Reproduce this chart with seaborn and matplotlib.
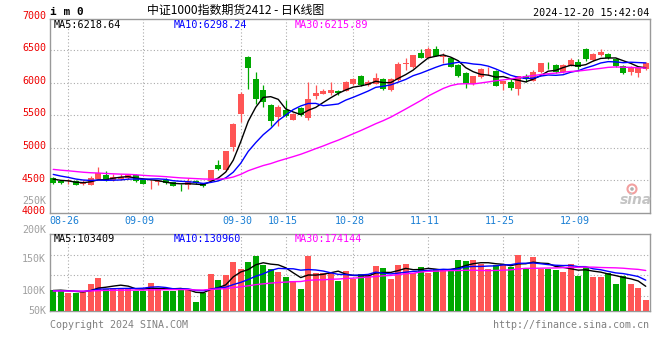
import numpy as np
import pandas as pd
import matplotlib
matplotlib.use("Agg")
import matplotlib.pyplot as plt
import matplotlib.transforms as mtransforms
from matplotlib.patches import Ellipse
import seaborn as sns

# ---------------- data ----------------
date_labels = ["08-26", "09-09", "09-30", "10-15", "10-28", "11-11", "11-25", "12-09"]
date_index = [2, 12, 25, 31, 40, 50, 60, 70]

opens = [4536, 4485, 4490, 4490, 4438, 4425, 4520, 4590, 4508, 4520,
         4531, 4590, 4500, 4470, 4480, 4500, 4470, 4420, 4423, 4490,
         4454, 4495, 4730, 4655, 5010, 5520, 6393, 6059, 5880, 5649,
         5469, 5572, 5433, 5608, 5454, 5792, 5828, 5844, 5869, 5869,
         5972, 6095, 5957, 5982, 6059, 5880, 6033, 6290, 6239, 6459,
         6382, 6520, 6395, 6384, 6273, 6146, 5980, 6081, 6172, 6182,
         5980, 6005, 5894, 6106, 6030, 6157, 6273, 6273, 6157, 6258,
         6323, 6510, 6348, 6424, 6434, 6369, 6257, 6167, 6141, 6207]
highs = [4546, 4505, 4515, 4500, 4505, 4567, 4705, 4638, 4592, 4592,
         4597, 4597, 4505, 4505, 4505, 4541, 4480, 4449, 4530, 4505,
         4460, 4660, 4806, 4955, 5387, 5854, 6400, 6162, 5957, 5674,
         5649, 5726, 5540, 5623, 6008, 5967, 5900, 6008, 5880, 6018,
         6064, 6110, 6033, 6151, 6069, 6069, 6316, 6377, 6418, 6520,
         6540, 6560, 6459, 6399, 6283, 6167, 6106, 6217, 6232, 6197,
         6030, 6056, 6106, 6131, 6187, 6303, 6323, 6283, 6283, 6374,
         6359, 6535, 6460, 6510, 6460, 6374, 6268, 6257, 6232, 6323]
lows = [4444, 4444, 4449, 4423, 4428, 4423, 4515, 4495, 4495, 4510,
        4520, 4474, 4438, 4367, 4428, 4449, 4410, 4341, 4372, 4449,
        4402, 4490, 4660, 4650, 4946, 5392, 5905, 5674, 5623, 5341,
        5341, 5470, 5420, 5495, 5433, 5751, 5818, 5813, 5813, 5864,
        5957, 5950, 5950, 5972, 5880, 5864, 6020, 6198, 6228, 6370,
        6370, 6400, 6305, 6232, 6091, 5914, 5970, 6070, 6121, 5945,
        5879, 5889, 5803, 6005, 6020, 6146, 6207, 6146, 6146, 6248,
        6207, 6333, 6338, 6409, 6364, 6242, 6136, 6116, 6091, 6197]
closes = [4459, 4464, 4500, 4428, 4474, 4530, 4615, 4502, 4548, 4551,
          4577, 4498, 4444, 4476, 4490, 4454, 4410, 4410, 4485, 4454,
          4413, 4652, 4675, 4944, 5362, 5828, 6223, 5751, 5700, 5418,
          5623, 5485, 5520, 5505, 5741, 5844, 5864, 5880, 5839, 6008,
          6059, 5957, 6008, 6069, 5905, 6059, 6280, 6300, 6418, 6382,
          6510, 6408, 6408, 6242, 6106, 5980, 6096, 6207, 6182, 5955,
          6020, 5924, 6096, 6056, 6167, 6293, 6263, 6157, 6273, 6343,
          6242, 6359, 6434, 6475, 6374, 6247, 6146, 6232, 6217, 6293]
volumes = [89, 89, 75, 75, 79, 115, 142, 94, 99, 99,
           94, 86, 86, 120, 94, 86, 86, 94, 94, 38,
           75, 157, 132, 153, 208, 179, 208, 234, 196, 179,
           164, 145, 128, 94, 234, 162, 162, 160, 129, 170,
           135, 157, 153, 191, 183, 136, 196, 200, 163, 187,
           160, 179, 179, 179, 217, 213, 217, 200, 179, 196,
           200, 187, 238, 183, 230, 179, 179, 174, 166, 200,
           149, 187, 145, 145, 160, 115, 149, 115, 99, 47]  # thousand lots
# sessions before the visible window (needed for the moving averages)
hist_close = [4820, 4790, 4760, 4805, 4770, 4740, 4700, 4720, 4690, 4660,
              4700, 4730, 4690, 4650, 4670, 4700, 4680, 4650, 4620, 4600,
              4720, 4700, 4680, 4630, 4590, 4560, 4540, 4530, 4511]
hist_volume = [82, 90, 78, 85, 95, 88, 76, 80, 92, 84, 79, 86, 90, 83, 77,
               81, 88, 94, 85, 79, 82, 87, 91, 84, 78, 83, 86, 90, 88]

price_ticks = [4000, 4500, 5000, 5500, 6000, 6500, 7000]
vol_tick_text = ["200K", "150K", "100K", "50K"]
title_text = "中证1000指数期货2412 - 日K线图"
code_text = "i m 0"
stamp_text = "2024-12-20 15:42:04"
ma_price_text = ["MA5:6218.64", "MA10:6298.24", "MA30:6215.89"]
ma_vol_text = ["MA5:103409", "MA10:130960", "MA30:174144"]

# ---------------- prep ----------------
n = len(closes)
idx = np.arange(n)
df = pd.DataFrame({"i": idx, "open": opens, "high": highs, "low": lows,
                   "close": closes, "vol": np.array(volumes) * 1000})
full_c = pd.Series(hist_close + closes, dtype=float)
full_v = pd.Series(hist_volume + volumes, dtype=float) * 1000
h = len(hist_close)
for w in (5, 10, 30):
    df[f"ma{w}"] = full_c.rolling(w).mean().values[h:]
    df[f"vma{w}"] = full_v.rolling(w).mean().values[h:]

RED = "#ff5555"
GREEN = "#00a800"
GRID = "#aaaaaa"
FRAME = "#999999"
MAC = {"5": "black", "10": "#0000ff", "30": "#ff00ff"}

sns.set_theme(style="white")
plt.rcParams["font.family"] = ["DejaVu Sans Mono", "Noto Sans CJK SC"]

W, H = 660, 360
fig = plt.figure(figsize=(6.6, 3.6), dpi=100)
fig.patch.set_facecolor("white")


def fx(x):
    return x / W


def fy(y):
    return 1 - y / H


ax1 = fig.add_axes([fx(50), fy(213), 600 / W, 194 / H])
ax2 = fig.add_axes([fx(50), fy(311), 600 / W, 77 / H])

xlim = (-0.43, 79.57)
up = df["close"] >= df["open"]
cols = np.where(up, RED, GREEN)
bw = 0.76

# ---- price panel ----
ax1.vlines(df["i"], df["low"], df["high"], colors=cols, linewidth=0.9, zorder=3)
body_h = (df["close"] - df["open"]).abs().clip(lower=9)
body_b = df[["open", "close"]].min(axis=1)
ax1.bar(df["i"], body_h, bottom=body_b, width=bw, color=cols, linewidth=0, zorder=4)
for w in ("5", "10", "30"):
    sns.lineplot(x=df["i"], y=df[f"ma{w}"], ax=ax1, color=MAC[w], linewidth=1.0,
                 zorder=5, estimator=None)
ax1.set_xlim(*xlim)
ax1.set_ylim(4000, 6975)
ax1.set_yticks([4500, 5000, 5500, 6000, 6500])
ax1.set_xticks(date_index)
ax1.grid(True, color=GRID, linestyle=(0, (1, 2)), linewidth=0.8)
ax1.tick_params(left=False, bottom=False, labelleft=False, labelbottom=False)
ax1.set_xlabel("")
ax1.set_ylabel("")

blend1 = mtransforms.blended_transform_factory(ax1.transAxes, ax1.transData)
for v in price_ticks:
    ax1.text(-0.0067, v + 26, str(v), transform=blend1, ha="right", va="center",
             color="#ee0000", fontsize=7.2, clip_on=False)

# ---- volume panel ----
ax2.bar(df["i"], df["vol"], width=bw, color=cols, linewidth=0, zorder=3)
for w in ("5", "10", "30"):
    sns.lineplot(x=df["i"], y=df[f"vma{w}"], ax=ax2, color=MAC[w], linewidth=1.0,
                 zorder=5, estimator=None)
vtop = 77 * 4250
ax2.set_xlim(*xlim)
ax2.set_ylim(0, vtop)
ax2.set_yticks([vtop * 0.2, vtop * 0.468, vtop * 0.723])
ax2.set_xticks(date_index)
ax2.grid(True, color=GRID, linestyle=(0, (1, 2)), linewidth=0.8)
ax2.tick_params(left=False, bottom=False, labelleft=False, labelbottom=False)
ax2.set_xlabel("")
ax2.set_ylabel("")

for ax in (ax1, ax2):
    for s in ax.spines.values():
        s.set_color(FRAME)
        s.set_linewidth(1.0)
    ax.set_facecolor("white")

# ---- date labels ----
blendx = mtransforms.blended_transform_factory(ax1.transData, fig.transFigure)
for lab, pos in zip(date_labels, date_index):
    ax1.text(pos - 0.45, fy(221), lab, transform=blendx, ha="center", va="center",
             color="#1a7fd4", fontsize=7.2, clip_on=False)

# ---- texts ----
fig.text(fx(50.5), fy(12), code_text, ha="left", va="center", fontsize=8,
         fontweight="bold", color="black")
fig.text(fx(236), fy(10.7), title_text, ha="center", va="center", fontsize=8.6,
         color="black", family=["Noto Sans CJK SC", "DejaVu Sans"])
fig.text(fx(649), fy(12.5), stamp_text, ha="right", va="center", fontsize=7.3,
         color="black")
for t, x, c in zip(ma_price_text, (54, 174, 295), ("black", "#0000ff", "#ff00ff")):
    fig.text(fx(x), fy(24.5), t, ha="left", va="center", fontsize=7.3, color=c)
for t, x, c in zip(ma_vol_text, (54, 174, 295), ("black", "#0000ff", "#ff00ff")):
    fig.text(fx(x), fy(238.5), t, ha="left", va="center", fontsize=7.3, color=c)

fig.text(fx(46), fy(200.7), "250K", ha="right", va="center", fontsize=7.2, color="#a0a0a0")
for t, y in zip(vol_tick_text, (230, 259.3, 290.7, 310.7)):
    fig.text(fx(46), fy(y), t, ha="right", va="center", fontsize=7.2, color="#a0a0a0")

fig.text(fx(50), fy(324.5), "Copyright 2024 SINA.COM", ha="left", va="center",
         fontsize=7.2, color="#808080")
fig.text(fx(649), fy(324.5), "http://finance.sina.com.cn", ha="right", va="center",
         fontsize=7.2, color="#808080")

# sina watermark (eye logo drawn as shapes, word as text)
fig.text(fx(636), fy(200), "sina", ha="center", va="center", fontsize=10,
         fontstyle="italic", fontweight="bold", color="#c4c4c4",
         family=["DejaVu Sans"])
fig.patches.append(Ellipse((fx(632), fy(189)), 9 / W, 9 / H, transform=fig.transFigure,
                           facecolor="none", edgecolor="#f2a0a0", linewidth=1.5))
fig.patches.append(Ellipse((fx(632), fy(189)), 3.6 / W, 3.6 / H, transform=fig.transFigure,
                           facecolor="#b0b0b0", edgecolor="none"))

fig.savefig("out.png", dpi=100, facecolor="white")
